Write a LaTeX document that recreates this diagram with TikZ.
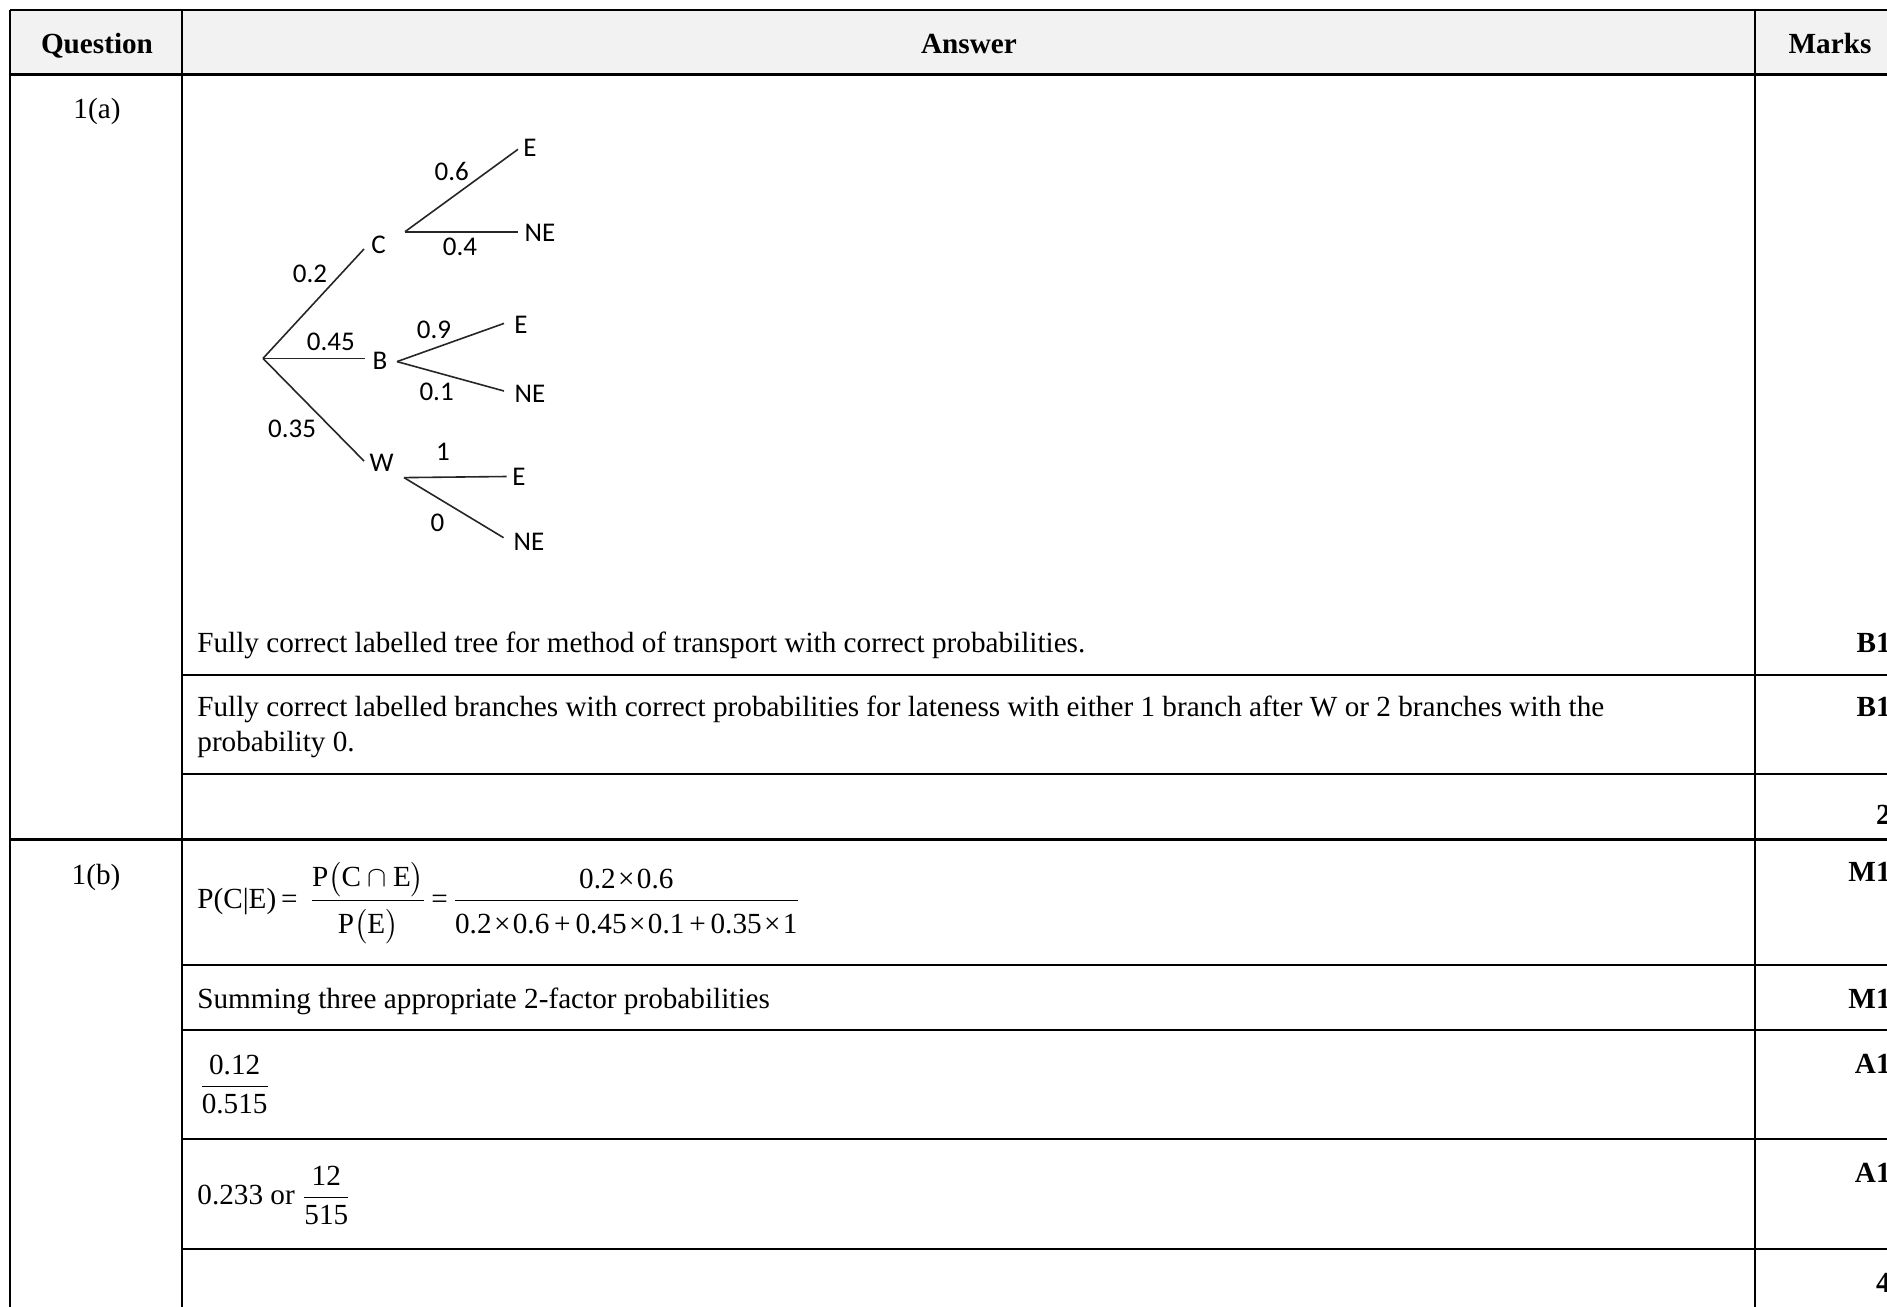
\documentclass[tikz,border=0pt]{standalone}
\usepackage{fontspec}
\usepackage{amsmath}
\setmainfont{Liberation Serif}
\newfontfamily\treefont{Carlito}
\definecolor{headgray}{RGB}{242,242,242}
\newcommand\tms{\kern1.2pt×\kern1.2pt}
\begin{document}
\begin{tikzpicture}[x=0.5pt,y=-0.5pt,
  grid/.style={line width=1pt},
  thickgrid/.style={line width=1.5pt},
  head/.style={anchor=base,inner sep=0pt,font=\fontsize{14.6}{17.5}\selectfont\bfseries},
  txt/.style={anchor=base west,inner sep=0pt,align=left,font=\fontsize{14.6}{17.5}\selectfont},
  markcell/.style={anchor=east,inner sep=0pt,font=\fontsize{14.6}{17.5}\selectfont\bfseries},
  branch/.style={line width=0.8pt,black!85},
  lbl/.style={inner sep=0pt,font=\treefont\fontsize{13.5}{15}\selectfont}]
\useasboundingbox (0,0) rectangle (1887,1307);
\clip (0,0) rectangle (1887,1307);
\fill[white] (0,0) rectangle (1887,1307);
\fill[headgray] (10,10) rectangle (1900,74.6);
% table rules
\draw[grid] (10,10) -- (1900,10);
\draw[grid] (10,10) -- (10,1320);
\draw[grid] (182,10) -- (182,1320);
\draw[grid] (1755,10) -- (1755,1320);
\draw[thickgrid] (10,74.6) -- (1900,74.6);
\draw[thickgrid] (10,839) -- (1900,839);
\foreach \y in {674.5,774,964.5,1029.7,1139,1249}
  \draw[grid] (182,\y) -- (1900,\y);
% header
\node[head] (qhead) at (97,53.7) {Question};
\node[head] (ahead) at (969,53.7) {Answer};
\node[head] (mhead) at (1830,53.7) {Marks};
\node[txt,anchor=base] (qa) at (97,118.5) {1(a)};
\node[txt,anchor=base] (qb) at (96,884) {1(b)};
% tree
\coordinate (root) at (263,358.4);
\coordinate (c) at (364,249);
\coordinate (b) at (365,358.4);
\coordinate (w) at (364,461);
\coordinate (cs) at (405,231.7);
\coordinate (bs) at (397,361.6);
\coordinate (ws) at (404,477.6);
\coordinate (ce) at (518,149.3);
\coordinate (cne) at (518,231.7);
\coordinate (be) at (504,323.4);
\coordinate (bne) at (504,391);
\coordinate (we) at (506.7,476.5);
\coordinate (wne) at (503.6,537.7);
\foreach \p/\q in {root/c,root/b,root/w,cs/ce,cs/cne,bs/be,bs/bne,ws/we,ws/wne}
  \draw[branch] (\p) -- (\q);
\node[lbl] (C) at (378.6,245) {C};
\node[lbl] (B) at (380,361.3) {B};
\node[lbl] (W) at (381.7,463) {W};
\node[lbl] (CE) at (530,148.3) {E};
\node[lbl] (CNE) at (540,233.3) {NE};
\node[lbl] (BE) at (521,324.5) {E};
\node[lbl] (BNE) at (530,394) {NE};
\node[lbl] (WE) at (519,476.5) {E};
\node[lbl] (WNE) at (529,541.5) {NE};
\node[lbl] (pc) at (310,273.6) {0.2};
\node[lbl] (pb) at (330.8,342.3) {0.45};
\node[lbl] (pw) at (292,428.6) {0.35};
\node[lbl] (pce) at (451.7,171.7) {0.6};
\node[lbl] (pcne) at (460,246.7) {0.4};
\node[lbl] (pbe) at (434,330) {0.9};
\node[lbl] (pbne) at (436.6,392) {0.1};
\node[lbl] (pwe) at (443,451.6) {1};
\node[lbl] (pwne) at (437.5,522.4) {0};
% answers
\node[txt] (a1) at (197,652.7) {Fully correct labelled tree for method of transport with correct probabilities.};
\node[txt] (a2) at (197,751.7) {Fully correct labelled branches with correct probabilities for lateness with either 1 branch after W or 2 branches with the\\probability 0.};
\node[txt] (b1) at (197,908) {P(C|E)\,=\, $\dfrac{\text{P}\bigl(\text{C}\cap\text{E}\bigr)}{\raisebox{-3pt}{$\text{P}\bigl(\text{E}\bigr)$}}$\,=\,$\dfrac{\text{0.2\tms0.6}}{\raisebox{-3pt}{\text{0.2\tms0.6\,+\,0.45\tms0.1\,+\,0.35\tms1}}}$};
\node[txt] (b2) at (197,1008.5) {Summing three appropriate 2-factor probabilities};
\node[txt] (b3) at (199,1094) {$\dfrac{\text{0.12}}{\text{0.515}}$};
\node[txt] (b4) at (197,1204.5) {0.233 or $\dfrac{\text{12}}{\text{515}}$};
% marks
\foreach \y/\m [count=\i] in {643/B1,707/B1,815/2,872/M1,999/M1,1064/A1,1173/A1,1283/4}
  \node[markcell] (mk\i) at (1891,\y) {\m};
\end{tikzpicture}
\end{document}
